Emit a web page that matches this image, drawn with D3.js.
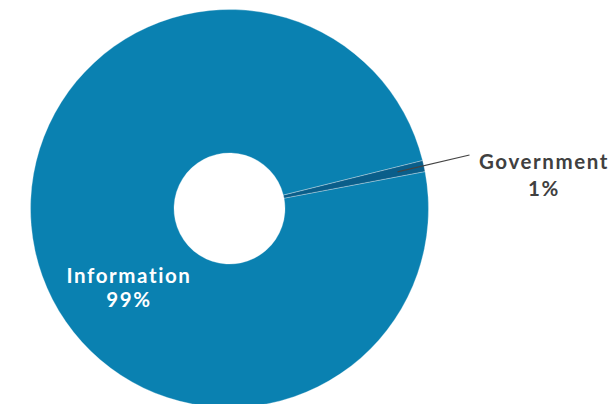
<!DOCTYPE html>
<html>
<head>
<meta charset="utf-8">
<script src="https://cdn.jsdelivr.net/npm/d3@7"></script>
<style>
  html, body { margin: 0; padding: 0; background: #ffffff; }
  svg { display: block; }
  text { font-family: Lato, "Open Sans", sans-serif; font-weight: 700; letter-spacing: 1.6px; }
</style>
</head>
<body>
<svg id="chart" width="615" height="404"></svg>
<script>
// ---- data ----
const categories = ["Information", "Government"];
const values = [99.1, 0.9];
const percentLabels = ["99%", "1%"];
const colors = ["#0a81b1", "#0a5e8a"];

// ---- layout ----
const cx = 229.5, cy = 208.5;
const outerR = 199, innerR = 55.5;
const startDeg = 79.3;

const svg = d3.select("#chart");
const g = svg.append("g").attr("transform", `translate(${cx},${cy})`);

const pie = d3.pie()
  .sort(null)
  .value(d => d.value)
  .startAngle(startDeg * Math.PI / 180)
  .endAngle(startDeg * Math.PI / 180 + 2 * Math.PI);

const data = categories.map((c, i) => ({ name: c, value: values[i], label: percentLabels[i], color: colors[i] }));
const arcs = pie(data);

const arc = d3.arc().innerRadius(innerR).outerRadius(outerR);

g.selectAll("path.slice")
  .data(arcs)
  .join("path")
  .attr("class", "slice")
  .attr("d", arc)
  .attr("fill", d => d.data.color)
  .attr("stroke", "#ffffff")
  .attr("stroke-opacity", 0.5)
  .attr("stroke-width", 0.6);

const fs = 20.5;

// Information label (inside)
const info = arcs[0];
const infoX = 129 - cx;
g.append("text")
  .attr("text-anchor", "middle")
  .attr("x", infoX).attr("y", 282.5 - cy)
  .attr("fill", "#ffffff")
  .attr("font-size", fs)
  .text(info.data.name);
g.append("text")
  .attr("text-anchor", "middle")
  .attr("x", infoX).attr("y", 307.2 - cy)
  .attr("fill", "#ffffff")
  .attr("font-size", fs)
  .text(info.data.label);

// Government label (outside, with leader line)
const gov = arcs[1];
const mid = (gov.startAngle + gov.endAngle) / 2;
const p1r = 172;
const p1 = [Math.sin(mid) * p1r, -Math.cos(mid) * p1r];
const p2 = [469.5 - cx, 155 - cy];
g.append("line")
  .attr("x1", p1[0]).attr("y1", p1[1])
  .attr("x2", p2[0]).attr("y2", p2[1])
  .attr("stroke", "#444444")
  .attr("stroke-width", 1.2);

const govX = 544 - cx;
g.append("text")
  .attr("text-anchor", "middle")
  .attr("x", govX).attr("y", 169.3 - cy)
  .attr("fill", "#404040")
  .attr("font-size", fs)
  .text(gov.data.name);
g.append("text")
  .attr("text-anchor", "middle")
  .attr("x", govX).attr("y", 195.5 - cy)
  .attr("fill", "#404040")
  .attr("font-size", fs)
  .text(gov.data.label);
</script>
</body>
</html>
